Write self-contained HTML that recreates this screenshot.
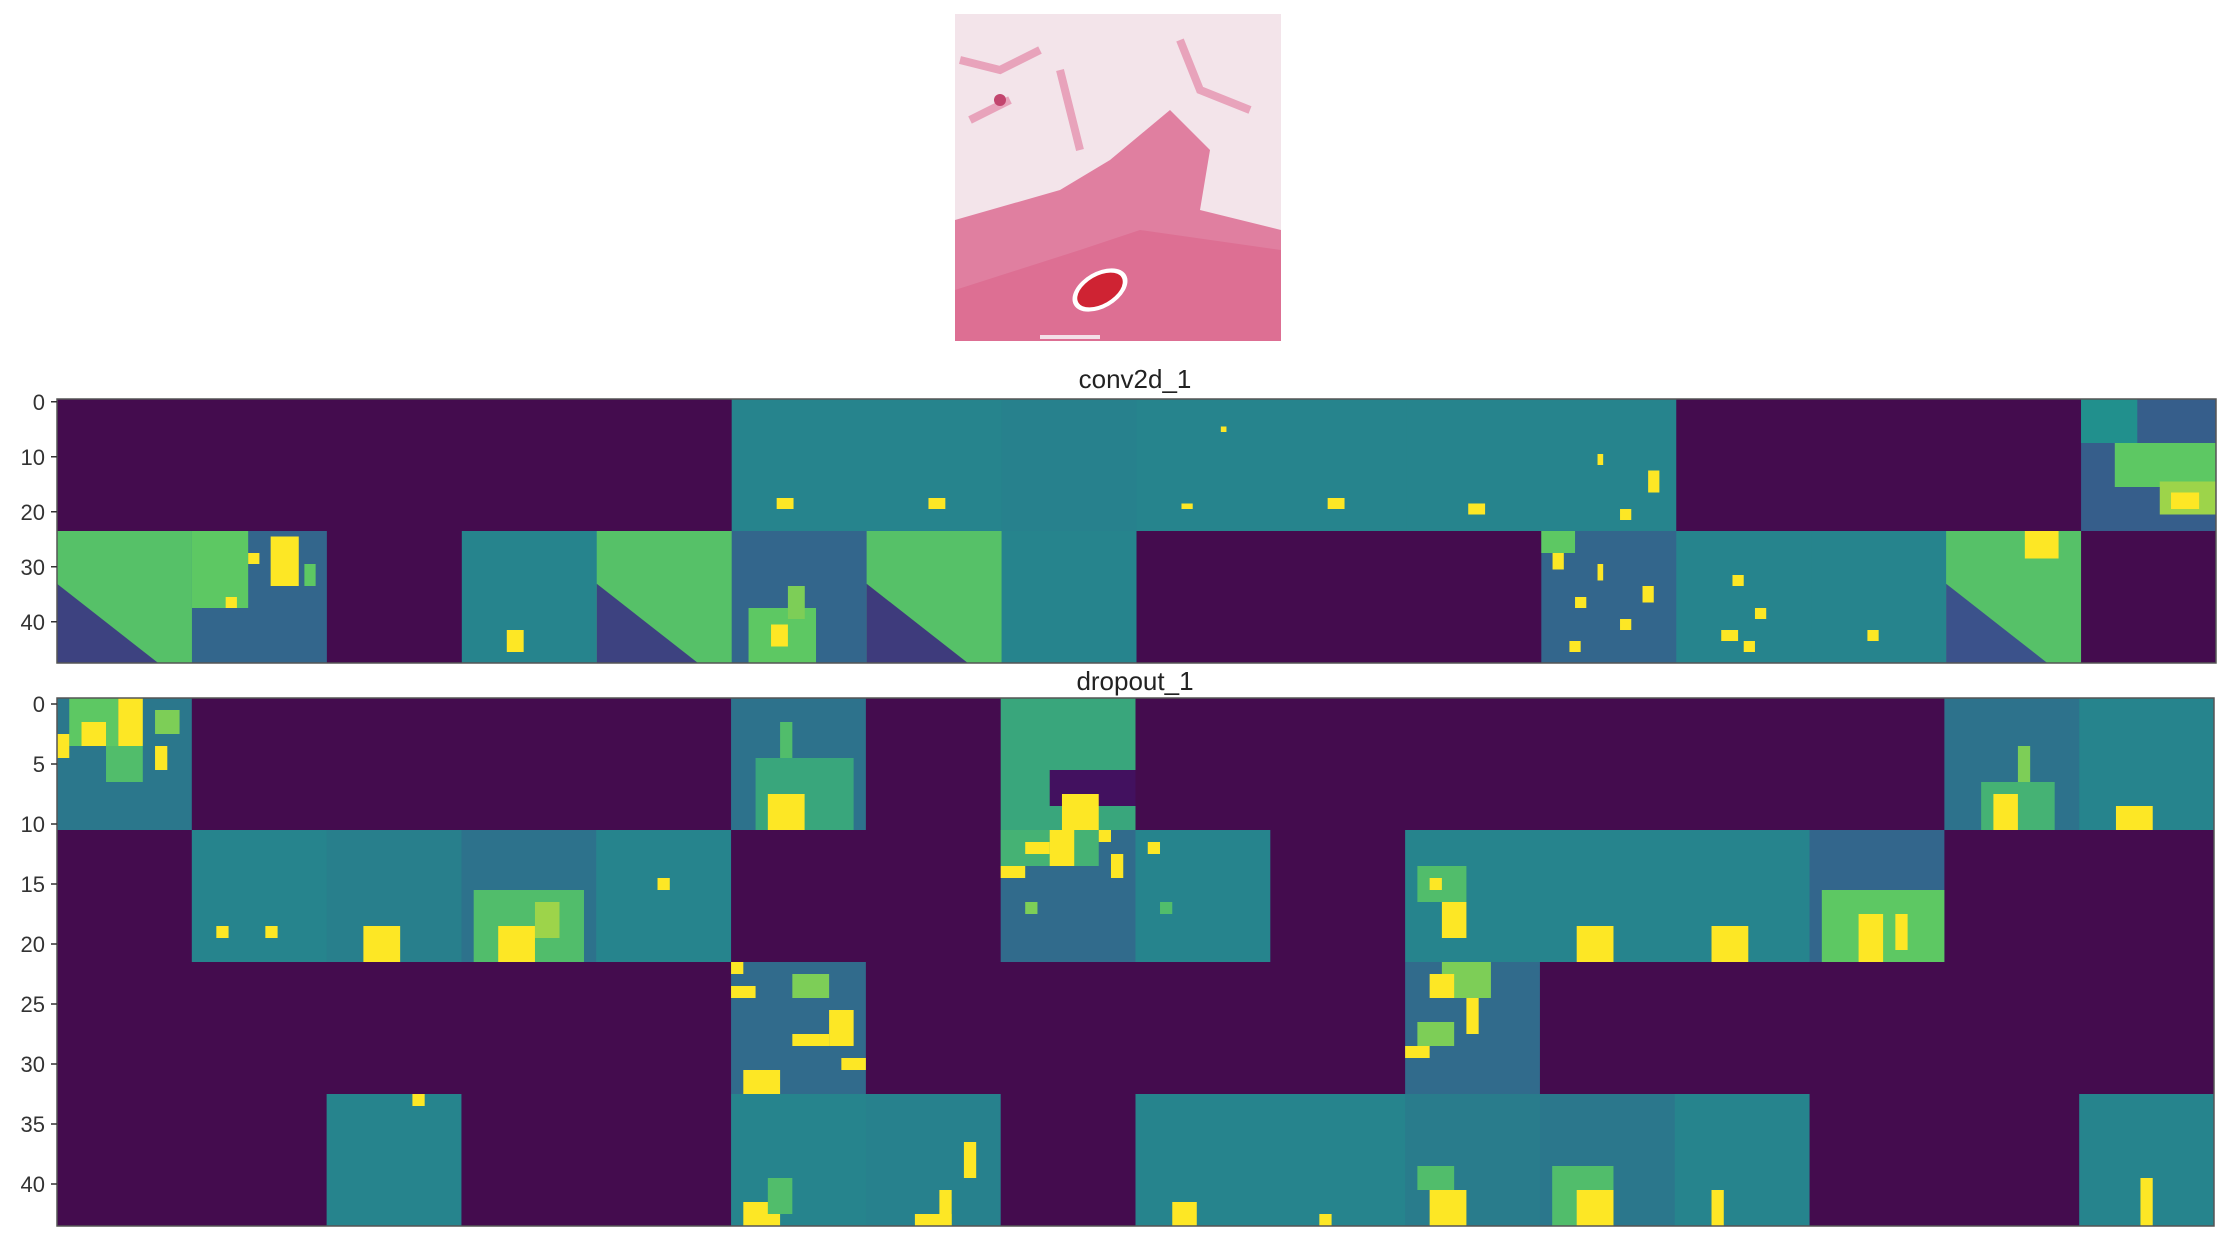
<!DOCTYPE html>
<html><head><meta charset="utf-8"><style>
html,body{margin:0;padding:0;background:#fff;}
svg{display:block;font-family:"Liberation Sans",sans-serif;}
</style></head><body>
<svg id="fig" width="2232" height="1248" viewBox="0 0 2232 1248" xmlns="http://www.w3.org/2000/svg">
  <g>
    <rect x="955" y="14" width="326" height="327" fill="#f3e4ea"/>
    <path d="M955 220 L1060 190 L1110 160 L1170 110 L1210 150 L1200 210 L1281 230 L1281 341 L955 341 Z" fill="#e07fa0"/>
    <path d="M955 290 L1080 250 L1140 230 L1281 250 L1281 341 L955 341 Z" fill="#dd6f93"/>
    <path d="M960 60 L1000 70 L1040 50 M970 120 L1010 100 M1060 70 L1080 150 M1180 40 L1200 90 L1250 110" stroke="#e8a3bb" stroke-width="8" fill="none"/>
    <circle cx="1000" cy="100" r="6" fill="#c2456e"/>
    <ellipse cx="1100" cy="290" rx="30" ry="18" transform="rotate(-30 1100 290)" fill="#fff"/>
    <ellipse cx="1100" cy="290" rx="25" ry="14" transform="rotate(-30 1100 290)" fill="#cf2333"/>
    <rect x="1040" y="335" width="60" height="4" fill="#f3dfe7"/>
  </g>
  <text x="1135" y="388" font-size="26" text-anchor="middle" fill="#222">conv2d_1</text>
  <text x="1135" y="690" font-size="26" text-anchor="middle" fill="#222">dropout_1</text>
  <g id="p1"></g>
  <g id="p2"></g>
</svg>
<script>
// plot 1: conv2d_1, 2 rows x 16 tiles, 24px tiles
const conv2dBase = [
  [0,0,0,0,0,0.45,0.45,0.44,0.45,0.45,0.45,0.45,0,0,0,0.3],
  [0.72,0.33,0,0.45,0.72,0.33,0.72,0.45,0,0,0,0.33,0.45,0.45,0.72,0]
];
// [col,row,x,y,w,h,value]
const conv2dBlobs = [
  [5,0,8,18,3,2,1],[6,0,11,18,3,2,1],[8,0,8,19,2,1,1],[8,0,15,5,1,1,1],[9,0,10,18,3,2,1],[10,0,11,19,3,2,1],[11,0,10,10,1,2,1],[11,0,19,13,2,4,1],[11,0,14,20,2,2,1],
  [15,0,0,0,10,8,0.5],[15,0,6,8,18,8,0.75],[15,0,14,15,10,6,0.85],[15,0,16,17,5,3,1],
  [1,1,0,0,10,14,0.75],[1,1,14,1,5,9,1],[1,1,10,4,2,2,1],[1,1,6,12,2,2,1],[1,1,20,6,2,4,0.75],
  [3,1,8,18,3,4,1],
  [5,1,3,14,12,10,0.75],[5,1,10,10,3,6,0.8],[5,1,7,17,3,4,1],
  [11,1,2,4,2,3,1],[11,1,6,12,2,2,1],[11,1,10,6,1,3,1],[11,1,14,16,2,2,1],[11,1,18,10,2,3,1],[11,1,5,20,2,2,1],[11,1,0,0,6,4,0.75],
  [12,1,10,8,2,2,1],[12,1,14,14,2,2,1],[12,1,8,18,3,2,1],[12,1,12,20,2,2,1],[13,1,10,18,2,2,1],
  [14,1,14,0,6,5,1]
];
// [col,row,value] lower-left triangle
const conv2dDiag = [[0,1,0.2],[4,1,0.2],[6,1,0.18],[14,1,0.25]];

// plot 2: dropout_1, 4 rows x 16 tiles, 11px tiles
const dropoutBase = [
  [0.4,0,0,0,0,0.38,0,0.6,0,0,0,0,0,0,0.38,0.45],
  [0,0.45,0.43,0.38,0.45,0,0,0.35,0.45,0,0.45,0.45,0.45,0.33,0,0],
  [0,0,0,0,0,0.35,0,0,0,0,0.35,0,0,0,0,0],
  [0,0,0.45,0,0,0.45,0.44,0,0.45,0.45,0.42,0.4,0.45,0,0,0.45]
];
const dropoutBlobs = [
  [0,0,1,0,4,4,0.75],[0,0,5,0,2,4,1],[0,0,2,2,2,2,1],[0,0,8,1,2,2,0.8],[0,0,0,3,1,2,1],[0,0,8,4,1,2,1],[0,0,4,4,3,3,0.7],
  [5,0,2,5,8,6,0.6],[5,0,4,2,1,3,0.7],[5,0,3,8,3,3,1],
  [7,0,4,6,7,3,0.05],[7,0,5,8,3,3,1],
  [14,0,3,7,6,4,0.65],[14,0,4,8,2,3,1],[14,0,6,4,1,3,0.8],
  [15,0,3,9,3,2,1],
  [1,1,2,8,1,1,1],[1,1,6,8,1,1,1],
  [2,1,3,8,3,3,1],
  [3,1,1,5,9,6,0.7],[3,1,3,8,3,3,1],[3,1,6,6,2,3,0.85],
  [4,1,5,4,1,1,1],
  [7,1,0,0,8,3,0.65],[7,1,2,1,2,1,1],[7,1,4,0,2,3,1],[7,1,0,3,2,1,1],[7,1,8,0,1,1,1],[7,1,9,2,1,2,1],[7,1,2,6,1,1,0.8],
  [8,1,1,1,1,1,1],[8,1,2,6,1,1,0.7],
  [10,1,3,6,2,3,1],[10,1,1,3,4,3,0.7],[10,1,2,4,1,1,1],
  [11,1,3,8,3,3,1],[12,1,3,8,3,3,1],
  [13,1,1,5,10,6,0.75],[13,1,4,7,2,4,1],[13,1,7,7,1,3,1],
  [5,2,0,0,1,1,1],[5,2,0,2,2,1,1],[5,2,5,1,3,2,0.8],[5,2,5,6,3,1,1],[5,2,1,9,3,2,1],[5,2,8,4,2,3,1],[5,2,9,8,2,1,1],
  [10,2,3,0,4,3,0.8],[10,2,2,1,2,2,1],[10,2,5,3,1,3,1],[10,2,1,5,3,2,0.8],[10,2,0,7,2,1,1],
  [2,3,7,0,1,1,1],
  [5,3,1,9,3,2,1],[5,3,3,7,2,3,0.7],
  [6,3,4,10,3,1,1],[6,3,6,8,1,3,1],[6,3,8,4,1,3,1],
  [8,3,3,9,2,2,1],[9,3,4,10,1,1,1],
  [10,3,2,8,3,3,1],[10,3,1,6,3,2,0.7],
  [11,3,1,6,5,5,0.7],[11,3,3,8,3,3,1],
  [12,3,3,8,1,3,1],
  [15,3,5,7,1,4,1]
];

const tickLabels1 = [0,10,20,30,40];
const tickLabels2 = [0,5,10,15,20,25,30,35,40];

const stops=[[0,[68,1,84]],[0.25,[59,82,139]],[0.5,[33,144,141]],[0.75,[93,200,99]],[1,[253,231,37]]];
function viridis(v){
  v=Math.max(0,Math.min(1,v));
  for(let i=0;i<stops.length-1;i++){
    const a=stops[i],b=stops[i+1];
    if(v<=b[0]){const t=(v-a[0])/(b[0]-a[0]);
      const c=a[1].map((x,k)=>Math.round(x+(b[1][k]-x)*t));
      return `rgb(${c[0]},${c[1]},${c[2]})`;}
  }
  return 'rgb(253,231,37)';
}
const NS='http://www.w3.org/2000/svg';
function mk(tag,attrs,parent){const e=document.createElementNS(NS,tag);for(const k in attrs)e.setAttribute(k,attrs[k]);parent.appendChild(e);return e;}

function drawPlot(g,opt){
  const {x0,y0,x1,y1,base,blobs,diag,unit,ticks,name}=opt;
  const rows=base.length, cols=base[0].length;
  const tw=(x1-x0)/cols, th=(y1-y0)/rows;
  const sx=tw/unit, sy=th/unit;
  const xs=(c,u)=>x0+c*tw+u*sx;
  const ys=(r,u)=>y0+r*th+u*sy;
  base.forEach((row,r)=>row.forEach((v,c)=>{
    const e=mk('rect',{x:xs(c,0),y:ys(r,0),width:tw+0.5,height:th+0.5,fill:v===0?'#440c4e':viridis(v)},g);
    
    
  }));
  (diag||[]).forEach(d=>{
    const [c,r,v]=d;
    const p=mk('polygon',{points:`${xs(c,0)},${ys(r,unit*0.4)} ${xs(c,unit*0.75)},${ys(r,unit)} ${xs(c,0)},${ys(r,unit)}`,fill:viridis(v)},g);
    
    
  });
  blobs.forEach(b=>{
    const [c,r,bx,by,bw,bh,v]=b;
    const e=mk('rect',{x:xs(c,bx),y:ys(r,by),width:bw*sx,height:bh*sy,fill:viridis(v)},g);
    
    
  });
  const frame=mk('rect',{x:x0,y:y0,width:x1-x0,height:y1-y0,fill:'none',stroke:'#555',"stroke-width":1.5},g);
  
  
  const total=rows*unit, py=(y1-y0)/total;
  ticks.forEach(t=>{
    const y=y0+(t+0.5)*py;
    const l=mk('line',{x1:x0-6,x2:x0,y1:y,y2:y,stroke:'#333',"stroke-width":1.5},g);
    
    
    const tx=mk('text',{x:x0-12,y:y+8,"font-size":22,"text-anchor":"end",fill:'#333'},g);
    tx.textContent=String(t);
    
    
  });
}
drawPlot(document.getElementById('p1'),{x0:57,y0:399,x1:2216,y1:663,base:conv2dBase,blobs:conv2dBlobs,diag:conv2dDiag,unit:24,ticks:tickLabels1,name:'conv2d'});
drawPlot(document.getElementById('p2'),{x0:57,y0:698,x1:2214,y1:1226,base:dropoutBase,blobs:dropoutBlobs,diag:[],unit:11,ticks:tickLabels2,name:'dropout'});
</script>
</body></html>
